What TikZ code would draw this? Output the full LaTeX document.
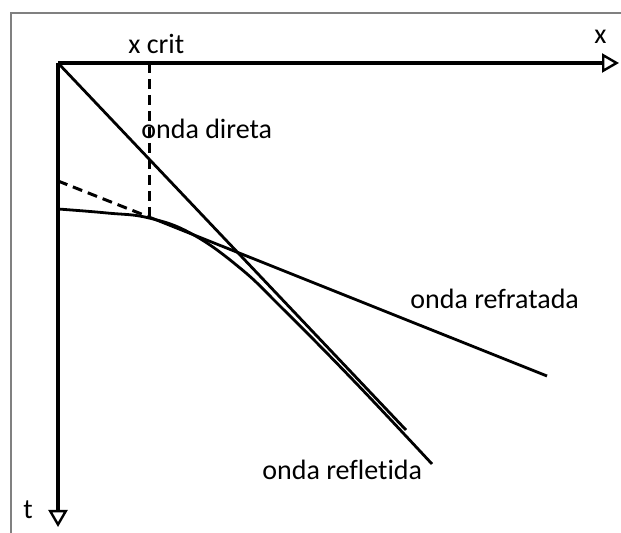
\documentclass[tikz,border=0pt]{standalone}
\usepackage{fontspec}
\setmainfont{Carlito}[Ligatures=NoCommon]
\usetikzlibrary{arrows.meta}
\tikzset{
  >={Triangle[open,length=8.5pt,width=9.5pt,line width=1.2pt]},
  axis/.style={draw, line width=1.7pt},
  wave/.style={draw, line width=1.4pt},
  guide/.style={draw, line width=1.5pt, dash pattern=on 5pt off 3pt},
  lbl/.style={inner sep=0pt, anchor=base west, font=\fontsize{14}{17}\selectfont},
  frame/.style={draw=gray, line width=0.7pt},
}
\begin{document}
\begin{tikzpicture}[x=0.5pt,y=-0.5pt]
  \useasboundingbox (0,0) rectangle (621,533);
  % frame
  \draw[frame] (11,533) -- (11,13) -- (621,13);

  % axes
  \coordinate (O) at (58,63);
  \coordinate (xend) at (619,63);
  \coordinate (tend) at (58,527);
  \draw[axis,->] (O) -- (xend);
  \draw[axis,->] (O) -- (tend);
  \node[lbl] (xlab) at (594,44) {x};
  \node[lbl] (tlab) at (23,519) {t};

  % critical distance
  \coordinate (xc) at (149,63);
  \coordinate (T) at (149,217);
  \coordinate (ti) at (58,181);
  \draw[guide] (xc) -- (T);
  \draw[guide] (ti) -- (T);
  \node[lbl] (xcrit) at (128,54) {x crit};

  % waves
  \coordinate (dend) at (406,430);
  \coordinate (rend) at (547,376);
  \draw[wave] (O) -- (dend);
  \draw[wave] (T) -- (rend);
  \draw[wave] plot[smooth, tension=0.7] coordinates
    {(58,209) (107,213) (149,218) (192,234) (240,268) (282,308) (353,380) (432,464)};

  \node[lbl] (direta) at (141,139) {onda direta};
  \node[lbl] (refratada) at (410,309) {onda refratada};
  \node[lbl] (refletida) at (262,480) {onda refletida};
\end{tikzpicture}
\end{document}
